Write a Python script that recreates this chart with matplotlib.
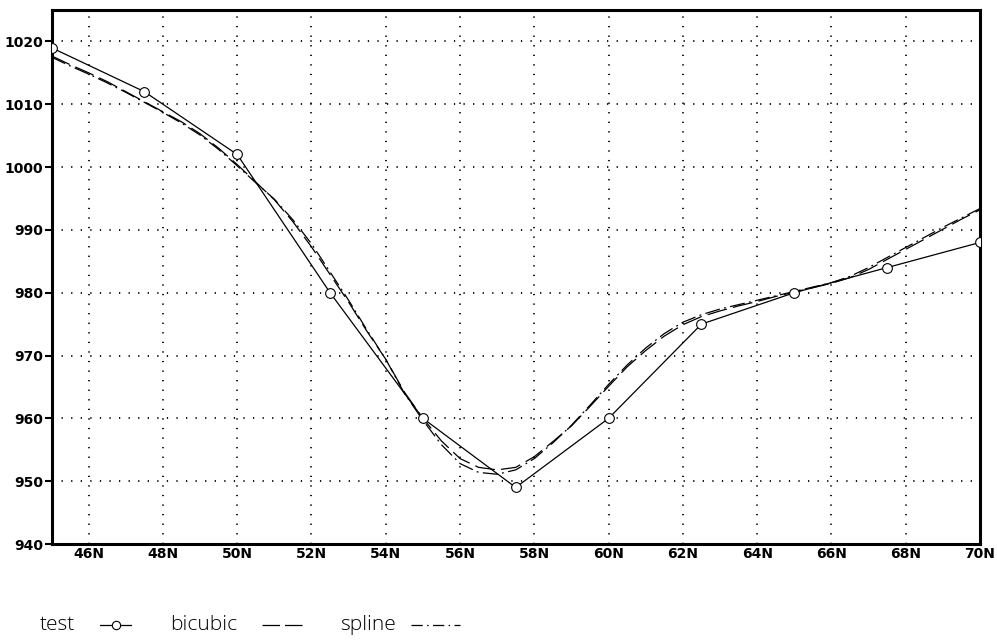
import numpy as np
import matplotlib.pyplot as plt
from matplotlib.lines import Line2D

# station values along the section
test_lat = [45.0, 47.5, 50.0, 52.5, 55.0, 57.5, 60.0, 62.5, 65.0, 67.5, 70.0]
test_val = [1019, 1012, 1002, 980, 960, 949, 960, 975, 980, 984, 988]

# interpolated curves, every half degree
curve_lat = np.arange(45.0, 70.01, 0.5)
bicubic_val = [1017.7, 1016.3, 1015.0, 1013.6, 1012.0, 1010.4, 1008.8, 1007.2, 1005.3, 1003.0,
               1000.4, 997.6, 994.8, 991.3, 987.3, 982.9, 978.5, 973.8, 969.4, 964.2,
               960.0, 956.4, 953.6, 952.2, 951.8, 952.2, 953.9, 956.3, 958.8, 961.9,
               965.1, 968.2, 970.8, 973.1, 974.9, 976.2, 977.1, 977.9, 978.6, 979.4,
               980.1, 980.8, 981.5, 982.4, 983.7, 985.3, 986.9, 988.5, 990.1, 991.7,
               993.2]
spline_val = [1017.5, 1016.1, 1014.8, 1013.4, 1011.9, 1010.3, 1008.7, 1007.0, 1005.1, 1002.8,
              1000.2, 997.5, 994.9, 991.6, 987.8, 983.3, 978.8, 974.0, 969.4, 964.0,
              959.7, 955.8, 952.8, 951.4, 951.1, 951.8, 953.6, 956.1, 958.9, 962.1,
              965.4, 968.5, 971.2, 973.5, 975.3, 976.5, 977.4, 978.1, 978.8, 979.5,
              980.2, 980.9, 981.6, 982.6, 984.0, 985.6, 987.2, 988.8, 990.4, 991.9,
              993.4]

xticks = list(range(46, 71, 2))
xlabels = [f"{t}N" for t in xticks]
yticks = list(range(940, 1021, 10))

bicubic_ls = (0, (16, 5))
spline_ls = (0, (12, 3.5, 1.5, 3.5))

fig = plt.figure(figsize=(9.97, 6.4), dpi=100)
ax = fig.add_axes([51.5 / 997, 96 / 640, 928.5 / 997, 534 / 640])

ax.plot(test_lat, test_val, color="black", lw=0.9, marker="o", ms=7,
        mfc="white", mec="black", mew=0.8, zorder=4)
ax.plot(curve_lat, bicubic_val, color="black", lw=0.9, linestyle=bicubic_ls, zorder=3)
ax.plot(curve_lat, spline_val, color="black", lw=0.9, linestyle=spline_ls, zorder=3)

ax.set_xlim(45, 70)
ax.set_ylim(940, 1025)
ax.set_xticks(xticks)
ax.set_xticklabels(xlabels)
ax.set_yticks(yticks)

ax.grid(True, color="black", lw=1.3, linestyle=(0, (0.7, 4.6)))
ax.set_axisbelow(True)
for sp in ax.spines.values():
    sp.set_linewidth(2.2)

ax.tick_params(axis="x", length=0, pad=2, labelsize=10)
ax.tick_params(axis="y", length=5, width=1.5, pad=1, labelsize=10)
for lab in ax.get_xticklabels() + ax.get_yticklabels():
    lab.set_fontweight("bold")

# legend row under the plot
leg_font = dict(fontsize=15, family=["Open Sans", "DejaVu Sans"], fontweight="light",
                color="black", va="baseline", ha="left")
y_txt = 1 - 630 / 640
y_sym = 1 - 625 / 640
W = 997.0

fig.text(40 / W, y_txt, "test", **leg_font)
fig.add_artist(Line2D([100 / W, 131 / W], [y_sym, y_sym], color="black", lw=0.9,
                      transform=fig.transFigure))
fig.add_artist(Line2D([115.5 / W], [y_sym], color="black", marker="o", ms=6,
                      mfc="white", mec="black", mew=0.8, lw=0,
                      transform=fig.transFigure))

fig.text(170 / W, y_txt, "bicubic", **leg_font)
fig.add_artist(Line2D([262 / W, 307 / W], [y_sym, y_sym], color="black", lw=0.9,
                      linestyle=(0, (14, 4)), transform=fig.transFigure))

fig.text(340 / W, y_txt, "spline", **leg_font)
fig.add_artist(Line2D([411 / W, 460 / W], [y_sym, y_sym], color="black", lw=0.9,
                      linestyle=(0, (9, 3.5, 1.2, 3.5)), transform=fig.transFigure))

fig.savefig("out.png", dpi=100)
